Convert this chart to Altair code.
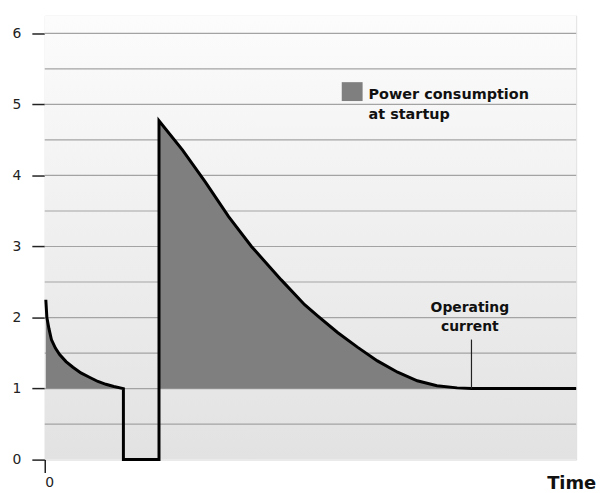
import altair as alt
import pandas as pd

# Startup current curve (relative units)
curveA_x = [0.2, 0.4, 0.8, 1.25, 2.0, 2.8, 4.0, 5.3, 6.8, 8.4, 10.0, 11.5, 13.0, 14.8]
curveA_y = [2.25, 2.0, 1.84, 1.69, 1.57, 1.48, 1.38, 1.30, 1.22, 1.16, 1.10, 1.06, 1.03, 1.0]
dip_x = [14.8, 21.5]
dip_y = [0, 0]
curveB_x = [21.5, 25.9, 30.2, 34.6, 38.9, 44.5, 48.9, 51.4, 55.1, 58.9, 62.6, 66.4, 70.1, 73.8, 77.6, 80.3]
curveB_y = [4.77, 4.36, 3.91, 3.42, 3.00, 2.53, 2.18, 2.02, 1.79, 1.58, 1.39, 1.23, 1.11, 1.04, 1.01, 1.0]
tail_x = [100]
tail_y = [1.0]

grid_y = [0.5, 1, 1.5, 2, 2.5, 3, 3.5, 4, 4.5, 5, 5.5, 6]
y_ticks = [0, 1, 2, 3, 4, 5, 6]
x_ticks = [0]

legend_label = ["Power consumption", "at startup"]
op_label = ["Operating", "current"]
op_x = 80.3
op_y = [1.0, 1.69]

FONT = "DejaVu Sans"
X_DOM = [0, 100]
Y_DOM = [0, 6.25]

xs = alt.Scale(domain=X_DOM, nice=False, zero=False)
ys = alt.Scale(domain=Y_DOM, nice=False, zero=False)

line_x = curveA_x + dip_x + curveB_x + tail_x
line_y = curveA_y + dip_y + curveB_y + tail_y
curve = pd.DataFrame({"x": line_x, "y": line_y, "i": range(len(line_x))})
fill = pd.DataFrame({
    "x": curveA_x + curveB_x,
    "y": curveA_y + curveB_y,
    "seg": ["A"] * len(curveA_x) + ["B"] * len(curveB_x),
    "base": [1.0] * (len(curveA_x) + len(curveB_x)),
})
grid = pd.DataFrame({"y": grid_y})
bg = pd.DataFrame({"x": [X_DOM[0]], "x2": [X_DOM[1]], "y": [Y_DOM[0]], "y2": [Y_DOM[1]]})

x_axis = alt.Axis(values=x_ticks, tickSize=13, tickColor="#222", tickWidth=1.5,
                  labelFontSize=14, labelFont=FONT, labelColor="#222", labelPadding=3,
                  domain=False, grid=False, title="Time", titleFont=FONT,
                  titleFontSize=18, titleFontWeight="bold", titleColor="#111",
                  titleX=530, titleY=29, titleAlign="center", titleBaseline="alphabetic")
y_axis = alt.Axis(values=y_ticks, format="d", tickSize=13, tickColor="#222", tickWidth=1.5,
                  labelFontSize=14, labelFont=FONT, labelColor="#222", labelPadding=11,
                  domain=False, grid=False, title=None)

background = alt.Chart(bg).mark_rect(
    color=alt.LinearGradient(gradient="linear", x1=0, x2=0, y1=0, y2=1,
                             stops=[alt.GradientStop(color="#fcfcfc", offset=0),
                                    alt.GradientStop(color="#e2e2e2", offset=1)])
).encode(
    x=alt.X("x:Q", scale=xs, axis=x_axis), x2="x2:Q",
    y=alt.Y("y:Q", scale=ys, axis=y_axis), y2="y2:Q",
)

gridlines = alt.Chart(grid).mark_rule(color="#a3a3a3", strokeWidth=1.2).encode(
    y=alt.Y("y:Q", scale=ys)
)

area = alt.Chart(fill).mark_area(color="#7f7f7f", opacity=1).encode(
    x=alt.X("x:Q", scale=xs), y=alt.Y("y:Q", scale=ys), y2="base:Q", detail="seg:N"
)

line = alt.Chart(curve).mark_line(color="black", strokeWidth=3, strokeJoin="miter").encode(
    x=alt.X("x:Q", scale=xs), y=alt.Y("y:Q", scale=ys), order="i:Q"
)

op_df = pd.DataFrame({"x": [op_x], "y": [op_y[0]], "y2": [op_y[1]]})
op_rule = alt.Chart(op_df).mark_rule(color="#222", strokeWidth=1.2).encode(
    x=alt.X("x:Q", scale=xs), y=alt.Y("y:Q", scale=ys), y2="y2:Q"
)

op_text = alt.Chart(pd.DataFrame({"t": [op_label]})).mark_text(
    font=FONT, fontSize=14, fontWeight="bold", color="#111", align="center",
    baseline="alphabetic", lineHeight=20
).encode(x=alt.value(428), y=alt.value(298), text="t")

leg_sq = alt.Chart(pd.DataFrame({"a": [1]})).mark_rect(color="#7f7f7f").encode(
    x=alt.value(299), x2=alt.value(320), y=alt.value(67), y2=alt.value(86)
)
leg_text = alt.Chart(pd.DataFrame({"t": [legend_label]})).mark_text(
    font=FONT, fontSize=14.5, fontWeight="bold", color="#111", align="left",
    baseline="alphabetic", lineHeight=21
).encode(x=alt.value(326), y=alt.value(83.5), text="t")

chart = alt.layer(background, gridlines, area, line, op_rule, op_text, leg_sq, leg_text).properties(
    width=535, height=447,
    autosize=alt.AutoSizeParams(type="none"),
    padding={"left": 37, "top": 6, "right": 24, "bottom": 40},
).configure_view(stroke="#999999", strokeWidth=1.5).configure(background="white")

chart.save("out.html", embed_options={"renderer": "svg", "actions": False})
